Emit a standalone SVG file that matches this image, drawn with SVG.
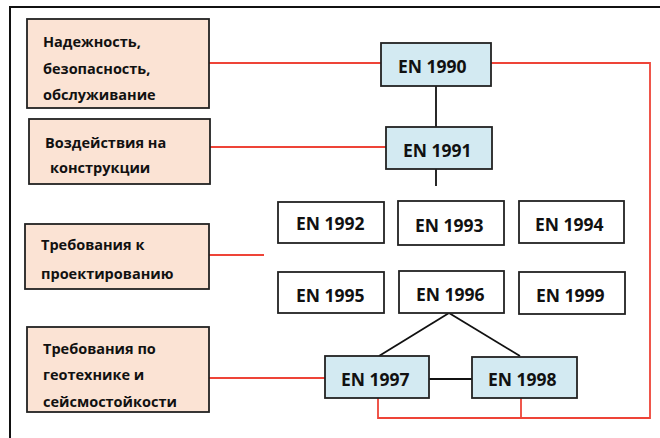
<svg xmlns="http://www.w3.org/2000/svg" width="660" height="438" viewBox="0 0 660 438">
<style>
.cat{fill:#FBE3D4;stroke:#222;stroke-width:1.8}
.en{fill:#D3EAF2;stroke:#222;stroke-width:1.8}
.pl{fill:#fff;stroke:#222;stroke-width:1.8}
text{font-family:"Open Sans","Noto Sans","DejaVu Sans",sans-serif;font-weight:bold;fill:#111}
.lt{font-size:14.5px}
.et{font-size:17.5px}
.red{stroke:#EE4438;stroke-width:1.8;fill:none}
.blk{stroke:#111;stroke-width:1.8;fill:none}
</style>
<rect width="660" height="438" fill="#fff"/>
<path d="M10,440 V7 H662" fill="none" stroke="#111" stroke-width="2"/>
<g id="connectors">
<path class="red" d="M209,63 H381"/>
<path class="red" d="M491,63 H650 V418 H378 V398"/>
<path class="red" d="M521,398 V418"/>
<path class="red" d="M210,147 H386"/>
<path class="red" d="M209,255 H264"/>
<path class="red" d="M209,378 H325"/>
<path class="blk" d="M436,86 V127"/>
<path class="blk" d="M436,169 V186"/>
<path class="blk" d="M449,313 L379,356"/>
<path class="blk" d="M449,313 L520,356"/>
<path class="blk" d="M429,379 H472"/>
</g>
<g id="cat1"><rect class="cat" x="27" y="19" width="182" height="89"/>
<text class="lt" x="43" y="47">Надежность,</text>
<text class="lt" x="43" y="74">безопасность,</text>
<text class="lt" x="43" y="100">обслуживание</text></g>
<g id="cat2"><rect class="cat" x="29" y="119" width="181" height="65"/>
<text class="lt" x="45" y="148">Воздействия на</text>
<text class="lt" x="50" y="173">конструкции</text></g>
<g id="cat3"><rect class="cat" x="25" y="224" width="184" height="65"/>
<text class="lt" x="41" y="250">Требования к</text>
<text class="lt" x="41" y="279">проектированию</text></g>
<g id="cat4"><rect class="cat" x="27" y="327" width="182" height="85"/>
<text class="lt" x="43" y="354">Требования по</text>
<text class="lt" x="43" y="380">геотехнике и</text>
<text class="lt" x="43" y="407">сейсмостойкости</text></g>
<g id="en1990"><rect class="en" x="381" y="43" width="110" height="43"/><text class="et" x="398" y="73">EN 1990</text></g>
<g id="en1991"><rect class="en" x="386" y="127" width="106" height="42"/><text class="et" x="403" y="157">EN 1991</text></g>
<g id="en1992"><rect class="pl" x="278" y="202" width="106" height="41"/><text class="et" x="296" y="230">EN 1992</text></g>
<g id="en1993"><rect class="pl" x="398" y="201" width="106" height="44"/><text class="et" x="415" y="232">EN 1993</text></g>
<g id="en1994"><rect class="pl" x="519" y="201" width="105" height="42"/><text class="et" x="535" y="231">EN 1994</text></g>
<g id="en1995"><rect class="pl" x="278" y="272" width="106" height="41"/><text class="et" x="296" y="302">EN 1995</text></g>
<g id="en1996"><rect class="pl" x="399" y="271" width="105" height="42"/><text class="et" x="416" y="301">EN 1996</text></g>
<g id="en1999"><rect class="pl" x="519" y="272" width="106" height="42"/><text class="et" x="536" y="302">EN 1999</text></g>
<g id="en1997"><rect class="en" x="325" y="356" width="104" height="42"/><text class="et" x="341" y="386">EN 1997</text></g>
<g id="en1998"><rect class="en" x="472" y="357" width="105" height="41"/><text class="et" x="488" y="386">EN 1998</text></g>
</svg>
